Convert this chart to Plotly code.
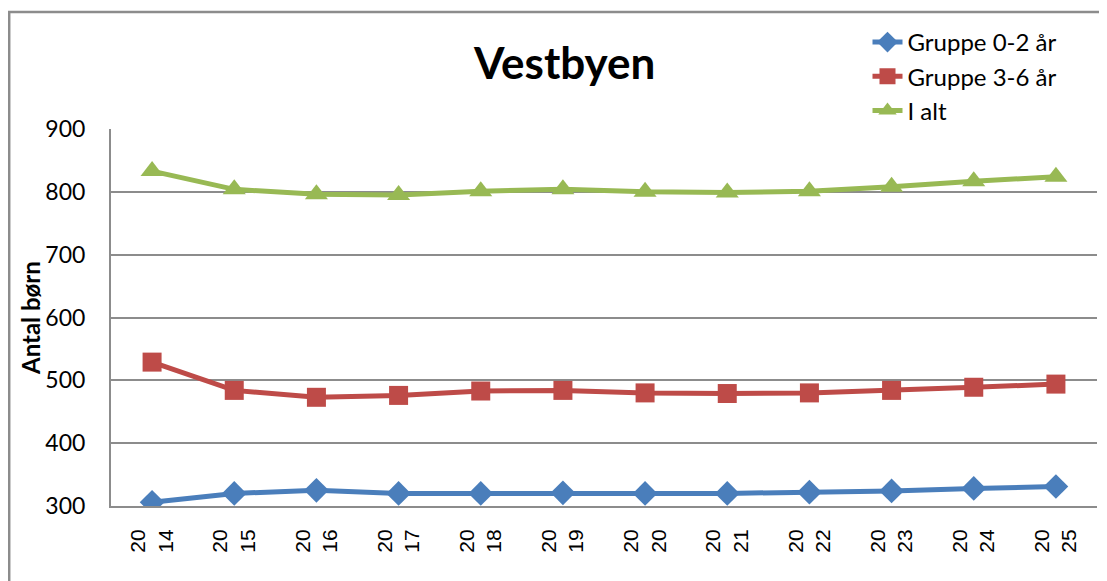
import plotly.graph_objects as go

years = ["20<br>14", "20<br>15", "20<br>16", "20<br>17", "20<br>18", "20<br>19",
         "20<br>20", "20<br>21", "20<br>22", "20<br>23", "20<br>24", "20<br>25"]
gruppe_0_2 = [306, 320, 325, 320, 320, 321, 320, 320, 322, 324, 328, 331]
gruppe_3_6 = [529, 484, 473, 476, 483, 484, 480, 479, 480, 484, 489, 494]
i_alt = [833, 804, 796, 795, 801, 804, 800, 799, 801, 808, 817, 824]
y_ticks = [300, 400, 500, 600, 700, 800, 900]

# figure geometry (page body has an 8px margin)
W, H = 1099, 573
L, R, T, B = 103, 10, 121, 75
PW, PH = W - L - R, H - T - B


def px_x(x):
    return (x - L) / PW


def px_y(y):
    return (H - B - y) / PH


fig = go.Figure()
fig.add_trace(go.Scatter(x=years, y=gruppe_0_2, name="Gruppe 0-2 år", mode="lines+markers",
                         line=dict(color="#4A7EBB", width=5),
                         marker=dict(symbol="diamond", size=19, color="#4A7EBB"),
                         legendgroup="a"))
fig.add_trace(go.Scatter(x=years, y=gruppe_3_6, name="Gruppe 3-6 år", mode="lines+markers",
                         line=dict(color="#BE4B48", width=5),
                         marker=dict(symbol="square", size=19, color="#BE4B48"),
                         legendgroup="b"))
fig.add_trace(go.Scatter(x=years, y=i_alt, name="I alt", mode="lines+markers",
                         line=dict(color="#98B954", width=5),
                         marker=dict(symbol="triangle-up", size=20, color="#98B954"),
                         legendgroup="c"))

fig.update_layout(
    width=W, height=H,
    margin=dict(l=L, r=R, t=T, b=B, autoexpand=False),
    paper_bgcolor="white", plot_bgcolor="white",
    font=dict(family="Lato, Calibri, sans-serif", size=20, color="black"),
    showlegend=True,
    legend=dict(x=px_x(859.5), y=px_y(12), xanchor="left", yanchor="top",
                font=dict(size=24, family="Lato, sans-serif"),
                tracegroupgap=0, bgcolor="rgba(0,0,0,0)"),
    xaxis=dict(type="category", range=[-0.5, 11.5], showgrid=False, automargin=False,
               showline=True, linecolor="#8C8C8C", linewidth=2,
               ticks="", ticklabelstandoff=13,
               tickangle=-90, tickfont=dict(family="Liberation Sans, Arial", size=21)),
    yaxis=dict(range=[300, 900], tickvals=y_ticks, showgrid=True, gridcolor="#8C8C8C", gridwidth=2,
               showline=True, linecolor="#8C8C8C", linewidth=2, zeroline=False, automargin=False,
               ticks="", ticklabelstandoff=19,
               tickfont=dict(size=23)),
    annotations=[
        dict(text="<b>Vestbyen</b>", xref="paper", yref="paper",
             x=px_x(556), y=px_y(54), yanchor="middle", xanchor="center", showarrow=False,
             font=dict(size=44, family="Lato, sans-serif")),
        dict(text="<b>Antal børn</b>", xref="paper", yref="paper", textangle=-90,
             x=px_x(22), y=px_y(310), yanchor="middle", xanchor="center", showarrow=False,
             font=dict(size=24, family="Lato, sans-serif")),
    ],
    shapes=[dict(type="rect", xref="paper", yref="paper",
                 x0=px_x(1.2), x1=1.2,
                 y0=-0.5, y1=px_y(4),
                 line=dict(color="#8C8C8C", width=2.5), layer="below")],
)

fig.write_html("out.html")
